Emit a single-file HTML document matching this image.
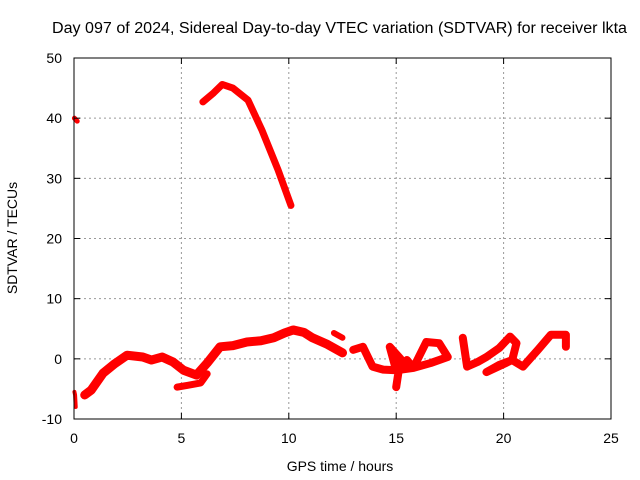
<!DOCTYPE html>
<html><head><meta charset="utf-8"><style>
body{margin:0;background:#fff}
svg{display:block;font-family:"Liberation Sans",sans-serif}
</style></head><body>
<svg id="chart" width="640" height="480" viewBox="0 0 640 480">
<rect width="640" height="480" fill="#fff"/>
<text x="339.5" y="33" text-anchor="middle" font-size="15.5" textLength="575" lengthAdjust="spacingAndGlyphs" fill="#000">Day 097 of 2024, Sidereal Day-to-day VTEC variation (SDTVAR) for receiver lkta</text>
<g id="grid"></g>
<g id="marks"></g>
<rect x="74" y="58" width="537" height="361" fill="none" stroke="#000" stroke-width="1"/>
<g id="ticks"></g>
<text x="340" y="471" text-anchor="middle" font-size="14">GPS time / hours</text>
<text transform="translate(17,238) rotate(-90)" text-anchor="middle" font-size="14">SDTVAR / TECUs</text>
</svg>
<script>
const xTicks=[0,5,10,15,20,25];
const yTicks=[-10,0,10,20,30,40,50];
const s1Hours=[0.5,0.8,1.35,1.9,2.47,3.2,3.6,4.1,4.6,5.1,5.7,6.2,6.8,7.4,8.05,8.7,9.3,9.8,10.2,10.7,11.1,11.8,12.5];
const s1Vals=[-6,-5.2,-2.4,-0.8,0.6,0.3,-0.2,0.3,-0.5,-1.9,-2.7,-0.7,2.0,2.2,2.8,3.0,3.5,4.3,4.8,4.4,3.5,2.4,1.0];
const s2Hours=[4.8,5.3,5.9,6.2];
const s2Vals=[-4.7,-4.4,-4.0,-2.5];
const s3Hours=[6.0,6.5,6.9,7.4,8.1,8.75,9.5,10.1];
const s3Vals=[42.7,44.2,45.6,45,43,38,31.4,25.5];
const s4Hours=[12.1,12.5];
const s4Vals=[4.3,3.5];
const s5Hours=[13.0,13.45,13.9,14.4,15.0,15.5,15.8,16.4,17.0,17.4,16.6,15.8,15.0,14.7,15.2,15.0];
const s5Vals=[1.5,2.0,-1.3,-1.8,-1.9,-0.2,-1.5,2.8,2.6,0.3,-0.7,-1.5,-1.9,2.0,0,-4.7];
const s6Hours=[18.1,18.3,18.8,19.2,19.8,20.3,20.6,20.4,19.8,19.2,20.4,20.9,21.6,22.2,22.9,22.9];
const s6Vals=[3.5,-1.3,-0.5,0.3,1.8,3.7,2.6,-0.2,-1.0,-2.2,-0.2,-1.3,1.5,4.0,4.0,2.0];
const s7Hours=[0.02,0.05,0.08];
const s7Vals=[-5.5,-6,-8];
const s8Hours=[0.02,0.15];
const s8Vals=[40,39.5];
const NS="http://www.w3.org/2000/svg";
const X0=74,X1=611,Y0=419,Y1=58;
function xs(h){return X0+(h-0)/(25-0)*(X1-X0);}
function ys(v){return Y0-(v+10)/60*(Y0-Y1);}
const grid=document.getElementById('grid'),ticks=document.getElementById('ticks'),marks=document.getElementById('marks');
function mk(t,a,p){const e=document.createElementNS(NS,t);for(const k in a)e.setAttribute(k,a[k]);p.appendChild(e);return e;}
xTicks.forEach(t=>{
  if(t>0&&t<25){const g=mk('line',{x1:xs(t),x2:xs(t),y1:Y0,y2:Y1,stroke:'#999','stroke-dasharray':'2,3'},grid);
  
  }
  mk('line',{x1:xs(t),x2:xs(t),y1:Y0,y2:Y0-6,stroke:'#000'},ticks);
  mk('line',{x1:xs(t),x2:xs(t),y1:Y1,y2:Y1+6,stroke:'#000'},ticks);
  const l=mk('text',{x:xs(t),y:Y0+24,'text-anchor':'middle','font-size':'14'},ticks);l.textContent=t;
  
  
});
yTicks.forEach(t=>{
  if(t>-10&&t<50){const g=mk('line',{x1:X0,x2:X1,y1:ys(t),y2:ys(t),stroke:'#999','stroke-dasharray':'2,3'},grid);
  
  }
  mk('line',{x1:X0,x2:X0+6,y1:ys(t),y2:ys(t),stroke:'#000'},ticks);
  mk('line',{x1:X1,x2:X1-6,y1:ys(t),y2:ys(t),stroke:'#000'},ticks);
  const l=mk('text',{x:X0-12,y:ys(t)+5,'text-anchor':'end','font-size':'14'},ticks);l.textContent=t;
  
  
});
const series=[[s1Hours,s1Vals,9],[s2Hours,s2Vals,7],[s3Hours,s3Vals,7],[s4Hours,s4Vals,6],[s5Hours,s5Vals,8],[s6Hours,s6Vals,8],[s7Hours,s7Vals,4],[s8Hours,s8Vals,5]];
series.forEach((s,i)=>{
  const pts=s[0].map((h,j)=>xs(h)+','+ys(s[1][j])).join(' ');
  const p=mk('polyline',{points:pts,fill:'none',stroke:'#f00','stroke-width':s[2],'stroke-linejoin':'round','stroke-linecap':'round'},marks);
  
  
});
</script>
</body></html>
